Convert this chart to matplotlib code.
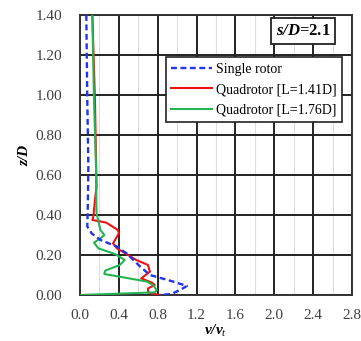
import matplotlib
matplotlib.use("Agg")
import matplotlib.pyplot as plt
from matplotlib.ticker import MultipleLocator

plt.rcParams['font.family'] = ['Liberation Serif', 'DejaVu Serif']
plt.rcParams['mathtext.fontset'] = 'custom'
plt.rcParams['mathtext.rm'] = 'Liberation Serif'
plt.rcParams['mathtext.it'] = 'Liberation Serif:italic'
plt.rcParams['mathtext.bf'] = 'Liberation Serif:bold'
plt.rcParams['mathtext.bfit'] = 'Liberation Serif:bold:italic'

single_v = [0.065, 0.075, 0.086, 0.079, 0.075, 0.12, 0.21, 0.38, 0.48, 0.62, 0.72, 0.96, 1.10, 1.03, 0.94, 0.82]
single_z = [1.40, 0.975, 0.64, 0.41, 0.342, 0.308, 0.275, 0.242, 0.208, 0.142, 0.10, 0.067, 0.045, 0.025, 0.005, 0.0]

q141_v = [0.127, 0.154, 0.17, 0.154, 0.137, 0.127, 0.27, 0.39, 0.40, 0.34, 0.38, 0.58, 0.70, 0.72, 0.63, 0.74, 0.77, 0.70, 0.70, 0.82]
q141_z = [1.40, 0.975, 0.54, 0.475, 0.39, 0.375, 0.362, 0.325, 0.308, 0.258, 0.233, 0.175, 0.15, 0.117, 0.083, 0.062, 0.05, 0.033, 0.012, 0.0]

q176_v = [0.127, 0.144, 0.165, 0.17, 0.21, 0.25, 0.21, 0.144, 0.19, 0.36, 0.46, 0.41, 0.26, 0.25, 0.45, 0.69, 0.75, 0.79, 0.77, 0.0]
q176_z = [1.40, 0.975, 0.64, 0.41, 0.325, 0.30, 0.283, 0.262, 0.233, 0.205, 0.175, 0.15, 0.122, 0.105, 0.088, 0.067, 0.05, 0.025, 0.013, 0.0]

labels = ['Single rotor', 'Quadrotor [L=1.41D]', 'Quadrotor [L=1.76D]']

fig = plt.figure(figsize=(3.61, 3.41), dpi=100)
ax = fig.add_axes([80/361, 1-295/341, 272/361, 280/341])

ax.plot(single_v, single_z, color='#2233ee', ls=(0, (2.5, 1.5)), lw=1.7, label=labels[0], zorder=5)
ax.plot(q141_v, q141_z, color='#ee1111', lw=1.5, label=labels[1], zorder=4)
ax.plot(q176_v, q176_z, color='#22b455', lw=1.5, label=labels[2], zorder=4)

ax.set_xlim(0, 2.8)
ax.set_ylim(0, 1.4)
ax.xaxis.set_major_locator(MultipleLocator(0.4))
ax.xaxis.set_minor_locator(MultipleLocator(0.2))
ax.yaxis.set_major_locator(MultipleLocator(0.2))
ax.xaxis.set_major_formatter(matplotlib.ticker.FormatStrFormatter('%.1f'))
ax.yaxis.set_major_formatter(matplotlib.ticker.FormatStrFormatter('%.2f'))
ax.grid(which='major', color='#222222', lw=1.4, zorder=1)
ax.grid(which='minor', axis='x', color='#dddddd', lw=0.8, zorder=0)
ax.tick_params(which='both', length=0, labelsize=11, colors='#404040')
ax.tick_params(axis='x', pad=10)
ax.tick_params(axis='y', pad=13)
for s in ax.spines.values():
    s.set_color('#333333')
    s.set_linewidth(1.4)

ax.set_ylabel('z/D', fontsize=11, fontweight='bold', style='italic', labelpad=3)
ax.set_xlabel('v/v$_t$', fontsize=11, fontweight='bold', style='italic', labelpad=1)

leg = ax.legend(loc='upper right', bbox_to_anchor=(0.963, 0.85), fontsize=10,
                frameon=True, fancybox=False, edgecolor='#222222', framealpha=1,
                handlelength=2.9, handletextpad=0.3, borderpad=0.4, labelspacing=0.55,
                borderaxespad=0)
leg.get_frame().set_linewidth(1.2)

ax.text(0.92, 0.97, r'$\mathbfit{s/D}$=2.1', transform=ax.transAxes, ha='right', va='top',
        fontsize=12, fontweight='bold',
        bbox=dict(boxstyle='square,pad=0.3', fc='white', ec='#222222', lw=1.3), zorder=6)

fig.savefig('out.png', dpi=100)
